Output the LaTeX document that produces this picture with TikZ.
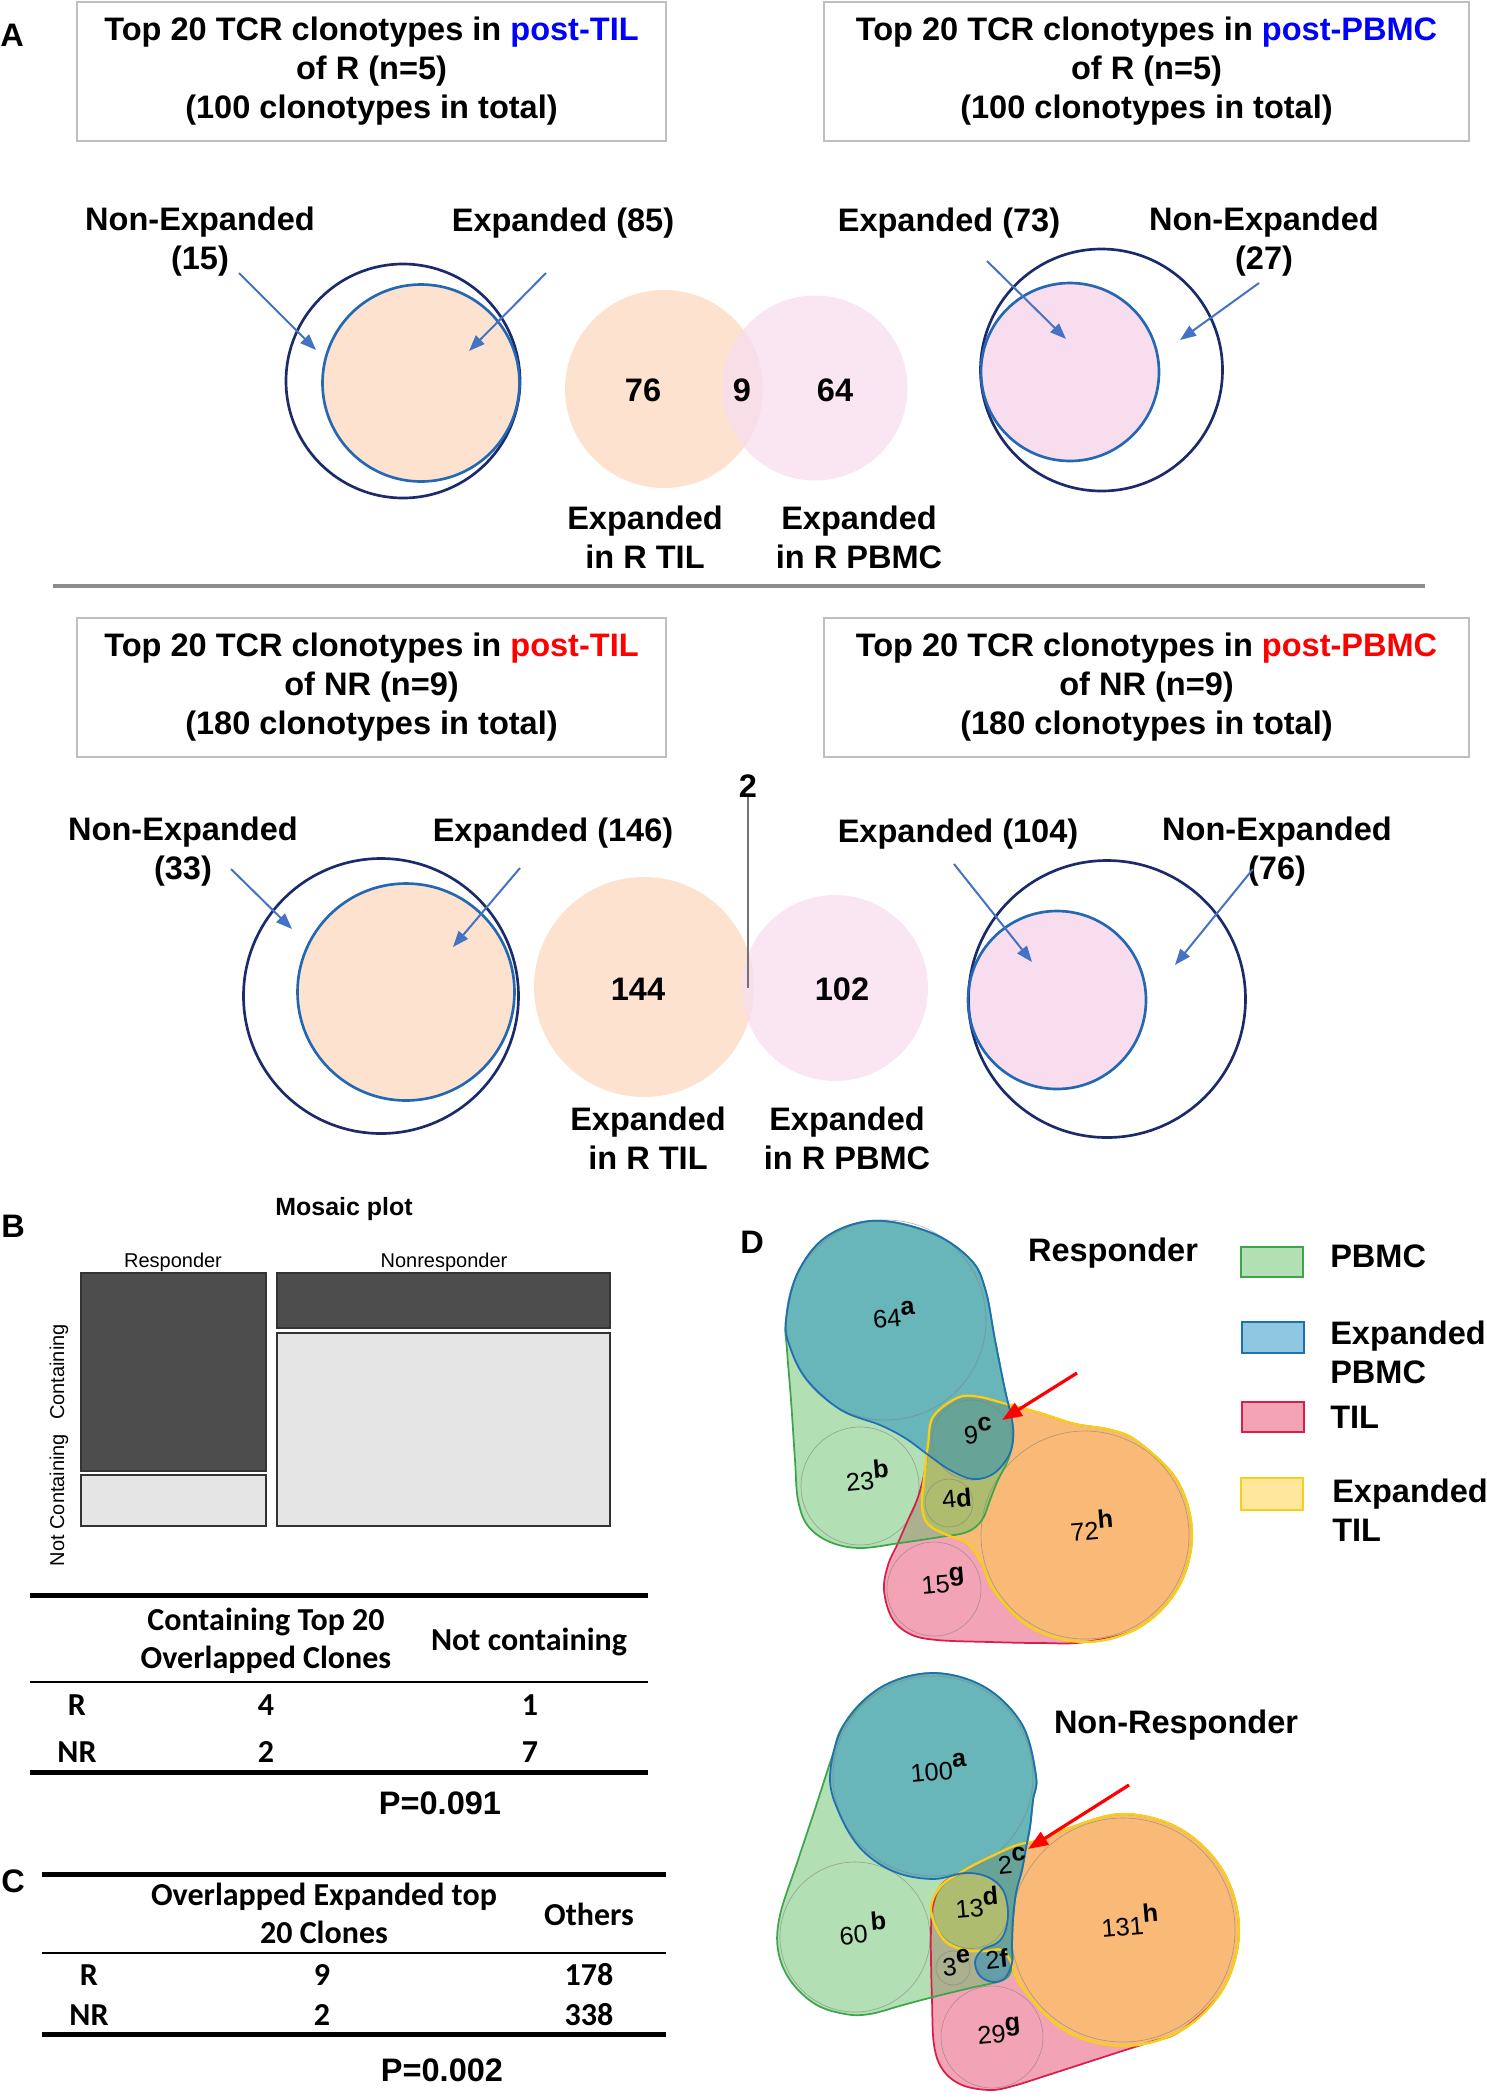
\documentclass[tikz,border=0pt]{standalone}
\usepackage{fontspec}
\setmainfont{Liberation Sans}
\newfontfamily\calibri{Carlito}
\usetikzlibrary{arrows.meta}
\definecolor{navyc}{HTML}{1B2A6B}
\definecolor{ringc}{HTML}{2468B4}
\definecolor{arrc}{HTML}{4472C4}
\definecolor{peachc}{HTML}{FDE3CF}
\definecolor{pinkc}{HTML}{F7DDEE}
\definecolor{boxc}{HTML}{BFBFBF}
\definecolor{ruleA}{HTML}{8C8C8C}
\definecolor{mosDark}{HTML}{4D4D4D}
\definecolor{mosLight}{HTML}{E5E5E5}
\definecolor{pbmcF}{HTML}{65BF67}
\definecolor{pbmcS}{HTML}{3DA54A}
\definecolor{epbF}{HTML}{208DC1}
\definecolor{epbS}{HTML}{1F6FB5}
\definecolor{tilF}{HTML}{E7476D}
\definecolor{tilS}{HTML}{D81F4C}
\definecolor{etilF}{HTML}{FFD23C}
\definecolor{etilS}{HTML}{F5CF1A}
\newcommand{\sups}[2]{#1\raisebox{0.45em}{\bfseries #2}}
\tikzset{
  hd/.style={font=\bfseries\fontsize{24.4}{29.3}\selectfont, inner sep=0pt, align=center},
  titlebox/.style={hd, draw=boxc, line width=1.5pt, minimum height=104.25pt},
  outring/.style={draw=navyc, line width=2pt},
  inring/.style={draw=ringc, line width=2pt},
  arr/.style={-{Triangle[length=12pt,width=9pt]}, arrc, line width=1.5pt},
  redarr/.style={-{Triangle[length=15pt,width=11pt]}, red, line width=2.4pt},
  eul/.style={font=\fontsize{19}{20}\selectfont, inner sep=0pt, anchor=base, rotate=5},
  mos/.style={font=\fontsize{15}{16}\selectfont, inner sep=0pt},
  mosbox/.style={draw=black!80, line width=0.8pt},
  tb/.style={font=\calibri\bfseries\fontsize{24}{28.5}\selectfont, inner sep=0pt, align=center},
  faint/.style={draw=gray, line width=0.5pt, draw opacity=0.6},
}
\begin{document}
\begin{tikzpicture}[x=0.75pt, y=-0.75pt]
\useasboundingbox (0,0) rectangle (1486,2100);

% ---------- A, responders
\node[hd, anchor=base] (labA) at (12,46) {A};
\node[titlebox, minimum width=441.75pt] (boxTilR) at (371.5,71.5)
  {Top 20 TCR clonotypes in \textcolor{blue}{post-TIL}\\of R (n=5)\\(100 clonotypes in total)};
\node[titlebox, minimum width=483.75pt] (boxPbR) at (1146.5,71.5)
  {Top 20 TCR clonotypes in \textcolor{blue}{post-PBMC}\\of R (n=5)\\(100 clonotypes in total)};

\fill[peachc] (421,383) circle[radius=98.5];
\draw[outring] (403,381) circle[radius=117];
\draw[inring] (421,383) circle[radius=98.5];
\fill[pinkc] (1070,372) circle[radius=89];
\draw[outring] (1101.5,370) circle[radius=121];
\draw[inring] (1070,372) circle[radius=89];

\fill[peachc] (664,389) circle[radius=99];
\fill[pinkc, fill opacity=0.75] (815,388) circle[radius=92.5];

\node[hd] (ne15) at (200,242) {Non-Expanded\\(15)};
\node[hd, anchor=base] (ex85) at (563,231) {Expanded (85)};
\node[hd, anchor=base] (ex73) at (949,231) {Expanded (73)};
\node[hd] (ne27) at (1264,242) {Non-Expanded\\(27)};
\node[hd] (n76) at (643,390) {76};
\node[hd] (n9) at (742,390) {9};
\node[hd] (n64) at (835,390) {64};
\node[hd] (exRtil) at (645,537) {Expanded\\in R TIL};
\node[hd] (exRpb) at (859,537) {Expanded\\in R PBMC};

\coordinate (t15) at (239,273);  \coordinate (h15) at (316,350);
\coordinate (t85) at (546,273);  \coordinate (h85) at (469,351);
\coordinate (t73) at (987,261);  \coordinate (h73) at (1066,339);
\coordinate (t27) at (1259,283); \coordinate (h27) at (1180,340);
\draw[arr] (t15) -- (h15);
\draw[arr] (t85) -- (h85);
\draw[arr] (t73) -- (h73);
\draw[arr] (t27) -- (h27);

\draw[ruleA, line width=3.5pt] (53,586) -- (1425,586);

% ---------- A, non-responders
\node[titlebox, minimum width=441.75pt] (boxTilN) at (371.5,687)
  {Top 20 TCR clonotypes in \textcolor{red}{post-TIL}\\of NR (n=9)\\(180 clonotypes in total)};
\node[titlebox, minimum width=483.75pt] (boxPbN) at (1146.5,687.5)
  {Top 20 TCR clonotypes in \textcolor{red}{post-PBMC}\\of NR (n=9)\\(180 clonotypes in total)};

\fill[peachc] (406,992) circle[radius=108.5];
\draw[outring] (381,996) circle[radius=137.5];
\draw[inring] (406,992) circle[radius=108.5];
\fill[pinkc] (1057,1000) circle[radius=89];
\draw[outring] (1107,999) circle[radius=138.5];
\draw[inring] (1057,1000) circle[radius=89];

\fill[peachc] (644,987) circle[radius=110];
\fill[pinkc, fill opacity=0.75] (835,988) circle[radius=93];

\node[hd] (ne33) at (183,852) {Non-Expanded\\(33)};
\node[hd, anchor=base] (ex146) at (553,841) {Expanded (146)};
\node[hd, anchor=base] (ex104) at (958,842) {Expanded (104)};
\node[hd] (ne76) at (1277,852) {Non-Expanded\\(76)};
\node[hd] (n144) at (638,989) {144};
\node[hd] (n102) at (842,989) {102};
\node[hd] (exNtil) at (648,1138) {Expanded\\in R TIL};
\node[hd] (exNpb) at (847,1138) {Expanded\\in R PBMC};
\node[hd, anchor=base] (two) at (748,797) {2};
\coordinate (twoEnd) at (748,988);
\draw[black!55, line width=1.1pt] (two.south) -- (twoEnd);

\coordinate (t33) at (231,869);  \coordinate (h33) at (292,929);
\coordinate (t146) at (520,868); \coordinate (h146) at (453,947);
\coordinate (t104) at (954,864); \coordinate (h104) at (1032,962);
\coordinate (t76) at (1253,869); \coordinate (h76) at (1175,965);
\draw[arr] (t33) -- (h33);
\draw[arr] (t146) -- (h146);
\draw[arr] (t104) -- (h104);
\draw[arr] (t76) -- (h76);

% ---------- B, mosaic plot and table
\node[hd, anchor=base] (labB) at (13,1237) {B};
\node[font=\bfseries\fontsize{18.7}{20}\selectfont, inner sep=0pt, anchor=base] (mosT) at (344,1215) {Mosaic plot};
\node[mos, anchor=base] (mosR) at (173,1267) {Responder};
\node[mos, anchor=base] (mosN) at (444,1267) {Nonresponder};
\node[mos, rotate=90] (mosC) at (59,1372) {Containing};
\node[mos, rotate=90] (mosNC) at (59,1500) {Not Containing};
\draw[mosbox, fill=mosDark] (81,1273) rectangle (266,1471);
\draw[mosbox, fill=mosLight] (81,1475) rectangle (266,1526);
\draw[mosbox, fill=mosDark] (277,1273) rectangle (610,1328);
\draw[mosbox, fill=mosLight] (277,1333) rectangle (610,1526);

\draw[line width=3.75pt] (30,1595.5) -- (648,1595.5);
\draw[line width=2pt] (30,1682) -- (648,1682);
\draw[line width=3.75pt] (30,1772) -- (648,1772);
\node[tb] (hCont) at (266,1641) {Containing Top 20\\Overlapped Clones};
\node[tb, anchor=base] (hNot) at (529,1650) {Not containing};
\node[tb, anchor=base] (bR) at (77,1715) {R};
\node[tb, anchor=base] (bR1) at (266,1715) {4};
\node[tb, anchor=base] (bR2) at (530,1715) {1};
\node[tb, anchor=base] (bN) at (77,1762) {NR};
\node[tb, anchor=base] (bN1) at (266,1762) {2};
\node[tb, anchor=base] (bN2) at (530,1762) {7};
\node[hd, anchor=base] (pB) at (440,1814) {P=0.091};

% ---------- C, table
\node[hd, anchor=base] (labC) at (13,1892) {C};
\draw[line width=3.75pt] (42,1874.5) -- (666,1874.5);
\draw[line width=2pt] (42,1953) -- (666,1953);
\draw[line width=3.75pt] (42,2034) -- (666,2034);
\node[tb] (hOv) at (324,1913) {Overlapped Expanded top\\20 Clones};
\node[tb, anchor=base] (hOth) at (589,1925) {Others};
\node[tb, anchor=base] (cR) at (89,1985) {R};
\node[tb, anchor=base] (cR1) at (322,1985) {9};
\node[tb, anchor=base] (cR2) at (589,1985) {178};
\node[tb, anchor=base] (cN) at (89,2025) {NR};
\node[tb, anchor=base] (cN1) at (322,2025) {2};
\node[tb, anchor=base] (cN2) at (589,2025) {338};
\node[hd, anchor=base] (pC) at (442,2081) {P=0.002};

% ---------- D, Euler diagrams
\node[hd, anchor=base] (labD) at (752,1253) {D};
\node[hd, anchor=base] (tResp) at (1113,1261) {Responder};
\node[hd, anchor=base] (tNonResp) at (1176,1733) {Non-Responder};

\draw[pbmcS, line width=1.5pt, fill=pbmcF, fill opacity=0.5] (1241,1247) rectangle (1303,1277);
\draw[epbS, line width=1.5pt, fill=epbF, fill opacity=0.5] (1242,1322) rectangle (1304,1353);
\draw[tilS, line width=1.5pt, fill=tilF, fill opacity=0.5] (1242,1402) rectangle (1304,1432);
\draw[etilS, line width=1.5pt, fill=etilF, fill opacity=0.5] (1241,1478) rectangle (1303,1510);
\node[hd, anchor=base west] (lgP) at (1330,1267) {PBMC};
\node[hd, align=left, anchor=west] (lgEP) at (1330,1352) {Expanded\\PBMC};
\node[hd, anchor=base west] (lgT) at (1330,1428) {TIL};
\node[hd, align=left, anchor=west] (lgET) at (1332,1510) {Expanded\\TIL};

% responder hulls
\path[save path=\hullRpb] plot[smooth cycle, tension=0.6] coordinates {
  (874.6,1220.7) (932.4,1233.3) (971,1260) (985.5,1290) (995,1340) (1005,1390)
  (1012,1420) (1013,1440) (1008,1460) (998,1480) (990,1500) (982,1520) (967,1532)
  (940,1537) (900,1543) (860,1548) (830,1542) (808,1526) (798,1500) (795,1460)
  (791,1400) (787,1350) (786,1320) (797.5,1273.3) (826.4,1236.7)};
\path[save path=\hullRepb] plot[smooth cycle, tension=0.6] coordinates {
  (874.6,1220.7) (932.4,1233.3) (971,1260) (985.5,1290) (995,1340) (1005,1390)
  (1012,1420) (1013,1440) (1008,1457) (993,1474) (973,1479) (950,1470) (927,1454)
  (905,1438) (880,1425) (841,1410) (807,1380) (790,1347) (786,1320) (797.5,1273.3)
  (826.4,1236.7)};
\path[save path=\hullRtil] plot[smooth cycle, tension=0.6] coordinates {
  (933,1417) (957,1398) (977,1396.5) (1003,1403) (1040,1413) (1075,1424) (1111,1430)
  (1138.5,1442.3) (1177.7,1481.5) (1192,1535) (1177.7,1588.5) (1138.5,1627.7)
  (1085,1642) (1040,1643) (990,1642) (937,1640) (910,1634) (892,1618) (884,1590)
  (888,1565) (897,1545) (908,1520) (918,1497) (925,1470) (928,1445)};
\path[save path=\hullRetil] plot[smooth cycle, tension=0.6] coordinates {
  (933,1417) (957,1398) (977,1396.5) (1003,1403) (1040,1413) (1075,1424) (1111,1430)
  (1138.5,1442.3) (1177.7,1481.5) (1192,1535) (1177.7,1588.5) (1138.5,1627.7)
  (1085,1642) (1031.5,1627.7) (995,1592) (981,1562) (967,1543) (947,1535) (928,1524)
  (922,1505) (925,1470) (928,1445)};

% non-responder hulls
\path[save path=\hullNpb] plot[smooth cycle, tension=0.6] coordinates {
  (933,1673) (984.5,1687) (1022,1724.5) (1036,1776) (1033,1800) (1030,1827)
  (1026,1848) (1022,1870) (1016,1893) (1013,1920) (1012,1945) (1012,1963)
  (1005,1979) (970,1988) (937,1996) (903,2005) (870,2014) (845,2014) (815,2004)
  (790,1980) (778,1950) (780,1915) (797,1863) (815,1809) (832,1757) (844,1724.5)
  (881.5,1687)};
\path[save path=\hullNepb] plot[smooth cycle, tension=0.6] coordinates {
  (933,1673) (984.5,1687) (1022,1724.5) (1036,1776) (1033,1800) (1030,1827)
  (1026,1848) (1022,1870) (1016,1893) (1013,1920) (1012,1945) (1012,1963)
  (1005,1978) (993,1982) (980,1976) (975,1962) (982,1950) (997,1943) (1005,1932)
  (1008,1912) (1003,1890) (988,1877) (965,1873) (933,1879) (895,1872) (862,1850)
  (840,1815) (830,1776) (844,1724.5) (881.5,1687)};
\path[save path=\hullNtil] plot[smooth cycle, tension=0.6] coordinates {
  (963,1871) (990,1857) (1017,1845) (1041,1840) (1065,1829.5) (1123,1814)
  (1181,1829.5) (1223.5,1872) (1239,1930) (1223.5,1988) (1181,2030.5) (1150,2042)
  (1116,2053) (1082,2064) (1048,2075) (1013,2086) (990,2090) (962,2085) (943,2070)
  (934,2045) (932,2000) (931,1960) (931,1930) (933,1905) (942,1884)};
\path[save path=\hullNetil] plot[smooth cycle, tension=0.6] coordinates {
  (963,1871) (990,1857) (1017,1845) (1041,1840) (1065,1829.5) (1123,1814)
  (1181,1829.5) (1223.5,1872) (1239,1930) (1223.5,1988) (1181,2030.5) (1123,2046)
  (1065,2030.5) (1022.5,1988) (1011,1962) (1002,1950) (985,1951) (965,1950)
  (944,1940) (931,1911) (940,1887)};

% fills, then faint circles, then outlines
\fill[use path=\hullRtil, tilF, fill opacity=0.5];
\fill[use path=\hullRetil, etilF, fill opacity=0.5];
\fill[use path=\hullRpb, pbmcF, fill opacity=0.5];
\fill[use path=\hullRepb, epbF, fill opacity=0.5];
\fill[use path=\hullNtil, tilF, fill opacity=0.5];
\fill[use path=\hullNetil, etilF, fill opacity=0.5];
\fill[use path=\hullNpb, pbmcF, fill opacity=0.5];
\fill[use path=\hullNepb, epbF, fill opacity=0.5];

\draw[faint] (886,1320) circle[radius=100];
\draw[faint] (860,1486) circle[radius=59];
\draw[faint] (972,1440) circle[radius=40];
\draw[faint] (949,1503) circle[radius=24];
\draw[faint] (934,1589) circle[radius=47];
\draw[faint] (1085,1535) circle[radius=104];
\draw[faint] (933,1776) circle[radius=100];
\draw[faint] (855,1937) circle[radius=75];
\draw[faint] (971,1911) circle[radius=37.5];
\draw[faint] (953,1968) circle[radius=17];
\draw[faint] (993,1963) circle[radius=17];
\draw[faint] (992,2037) circle[radius=51];
\draw[faint] (1123,1930) circle[radius=112];

\draw[use path=\hullRtil, tilS, line width=1.3pt];
\draw[use path=\hullRpb, pbmcS, line width=1.3pt];
\draw[use path=\hullRetil, etilS, line width=1.8pt];
\draw[use path=\hullRepb, epbS, line width=1.3pt];
\draw[use path=\hullNtil, tilS, line width=1.3pt];
\draw[use path=\hullNpb, pbmcS, line width=1.3pt];
\draw[use path=\hullNetil, etilS, line width=1.8pt];
\draw[use path=\hullNepb, epbS, line width=1.3pt];

\node[eul] (rA) at (895,1327) {\sups{64}{a}};
\node[eul] (rC) at (979,1443) {\sups{9}{c}};
\node[eul] (rB) at (868.6,1490) {\sups{23}{b}};
\node[eul] (rD) at (957.5,1507) {4\textbf{d}};
\node[eul] (rG) at (944,1593) {\sups{15}{g}};
\node[eul] (rH) at (1093,1540) {\sups{72}{h}};

\node[eul] (nA) at (939.5,1780) {\sups{100}{a}};
\node[eul] (nB) at (864,1943) {\sups{60\hspace{3pt}}{b}};
\node[eul] (nC) at (1013,1873) {\sups{2}{c}};
\node[eul] (nD) at (978,1917) {\sups{13}{d}};
\node[eul] (nE) at (957.5,1975) {\sups{3}{e}};
\node[eul] (nF) at (997.5,1968) {2\textbf{f}};
\node[eul] (nG) at (1000,2043) {\sups{29}{g}};
\node[eul] (nH) at (1131,1935) {\sups{131}{h}};

\coordinate (tRed1) at (1077,1373); \coordinate (hRed1) at (1002,1420);
\coordinate (tRed2) at (1129,1785); \coordinate (hRed2) at (1028,1849);
\draw[redarr] (tRed1) -- (hRed1);
\draw[redarr] (tRed2) -- (hRed2);
\end{tikzpicture}
\end{document}
